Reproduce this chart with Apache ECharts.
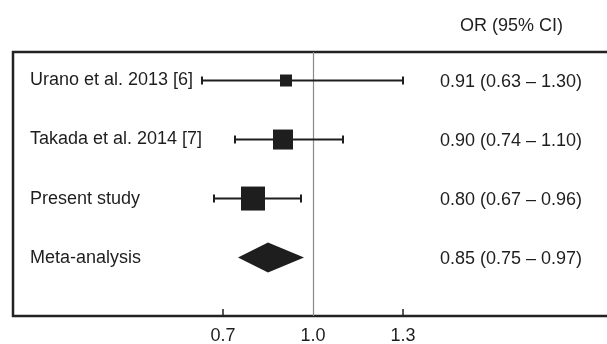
<!DOCTYPE html>
<html><head><meta charset="utf-8">
<script src="https://cdn.jsdelivr.net/npm/echarts@6/dist/echarts.min.js"></script>
<style>html,body{margin:0;padding:0;background:#fff}#c{width:607px;height:344px}</style>
</head><body><div id="c"></div>
<script>
const studies = ['Urano et al. 2013 [6]', 'Takada et al. 2014 [7]', 'Present study', 'Meta-analysis'];
const orValues = [0.91, 0.90, 0.80, 0.85];
const ciLow = [0.63, 0.74, 0.67, 0.75];
const ciHigh = [1.30, 1.10, 0.96, 0.97];
const isPooled = [0, 0, 0, 1];
const xTickLabels = [0.7, 1.0, 1.3];
const headerText = 'OR (95% CI)';

const FONT = '"Liberation Sans", Arial, sans-serif';
const INK = '#1e1e1e';
const boxSizes = [12, 20, 24];

const rowIdx = studies.map((s, i) => i);
const ciText = rowIdx.map(i => orValues[i].toFixed(2) + ' (' + ciLow[i].toFixed(2) + ' \u2013 ' + ciHigh[i].toFixed(2) + ')');
const seriesData = rowIdx.map(i => [ciLow[i], ciHigh[i], orValues[i], i, isPooled[i]]);

const chart = echarts.init(document.getElementById('c'), null, {renderer: 'canvas'});
chart.setOption({
  animation: false,
  backgroundColor: '#fff',
  title: {
    text: headerText, left: 455, top: 12,
    textStyle: {fontFamily: FONT, fontSize: 18, fontWeight: 'normal', color: INK}
  },
  grid: {left: 13, top: 52, width: 600, height: 264, show: true, borderColor: '#222', borderWidth: 2.5,
    backgroundColor: 'transparent', outerBoundsMode: 'none', containLabel: false},
  xAxis: {
    type: 'value', min: 0, max: 2,
    axisLine: {show: false, onZero: false},
    splitLine: {show: false},
    axisTick: {show: true, inside: true, length: 7, customValues: [xTickLabels[0], xTickLabels[2]], lineStyle: {color: '#222', width: 1.5}},
    axisLabel: {customValues: xTickLabels, formatter: v => Number(v).toFixed(1), fontFamily: FONT, fontSize: 18, color: INK, margin: 11}
  },
  yAxis: {
    type: 'value', inverse: true, min: -0.483, max: 3.99,
    axisLine: {show: false, onZero: false}, axisTick: {show: false}, splitLine: {show: false},
    axisLabel: {inside: true, customValues: rowIdx, formatter: v => studies[Math.round(v)] || '', margin: 17, fontFamily: FONT, fontSize: 18, color: INK}
  },
  series: [
    {
      type: 'line', data: [], z: 1, silent: true,
      markLine: {silent: true, symbol: 'none', label: {show: false},
        lineStyle: {color: '#8a8a8a', width: 1.2, type: 'solid'},
        data: [{xAxis: 1}]}
    },
    {
      type: 'custom', z: 5,
      data: seriesData,
      encode: {x: [0, 1, 2], y: 3},
      renderItem: function (params, api) {
        const i = api.value(3);
        const lo = api.coord([api.value(0), i]);
        const hi = api.coord([api.value(1), i]);
        const mid = api.coord([api.value(2), i]);
        const y = lo[1];
        const children = [];
        if (api.value(4)) {
          const h = 15;
          children.push({type: 'polygon', shape: {points: [[lo[0], y], [mid[0], y - h], [hi[0], y], [mid[0], y + h]]}, style: {fill: INK}});
        } else {
          const st = {stroke: INK, lineWidth: 2};
          children.push({type: 'line', shape: {x1: lo[0], y1: y, x2: hi[0], y2: y}, style: st});
          children.push({type: 'line', shape: {x1: lo[0], y1: y - 4, x2: lo[0], y2: y + 4}, style: st});
          children.push({type: 'line', shape: {x1: hi[0], y1: y - 4, x2: hi[0], y2: y + 4}, style: st});
          const s = boxSizes[i];
          children.push({type: 'rect', shape: {x: mid[0] - s / 2, y: y - s / 2, width: s, height: s}, style: {fill: INK}});
        }
        children.push({type: 'text', style: {text: ciText[i], x: 440, y: y + 1.5, verticalAlign: 'middle', align: 'left', font: '18px ' + FONT, fill: INK}});
        return {type: 'group', children: children};
      }
    }
  ]
});
</script></body></html>
